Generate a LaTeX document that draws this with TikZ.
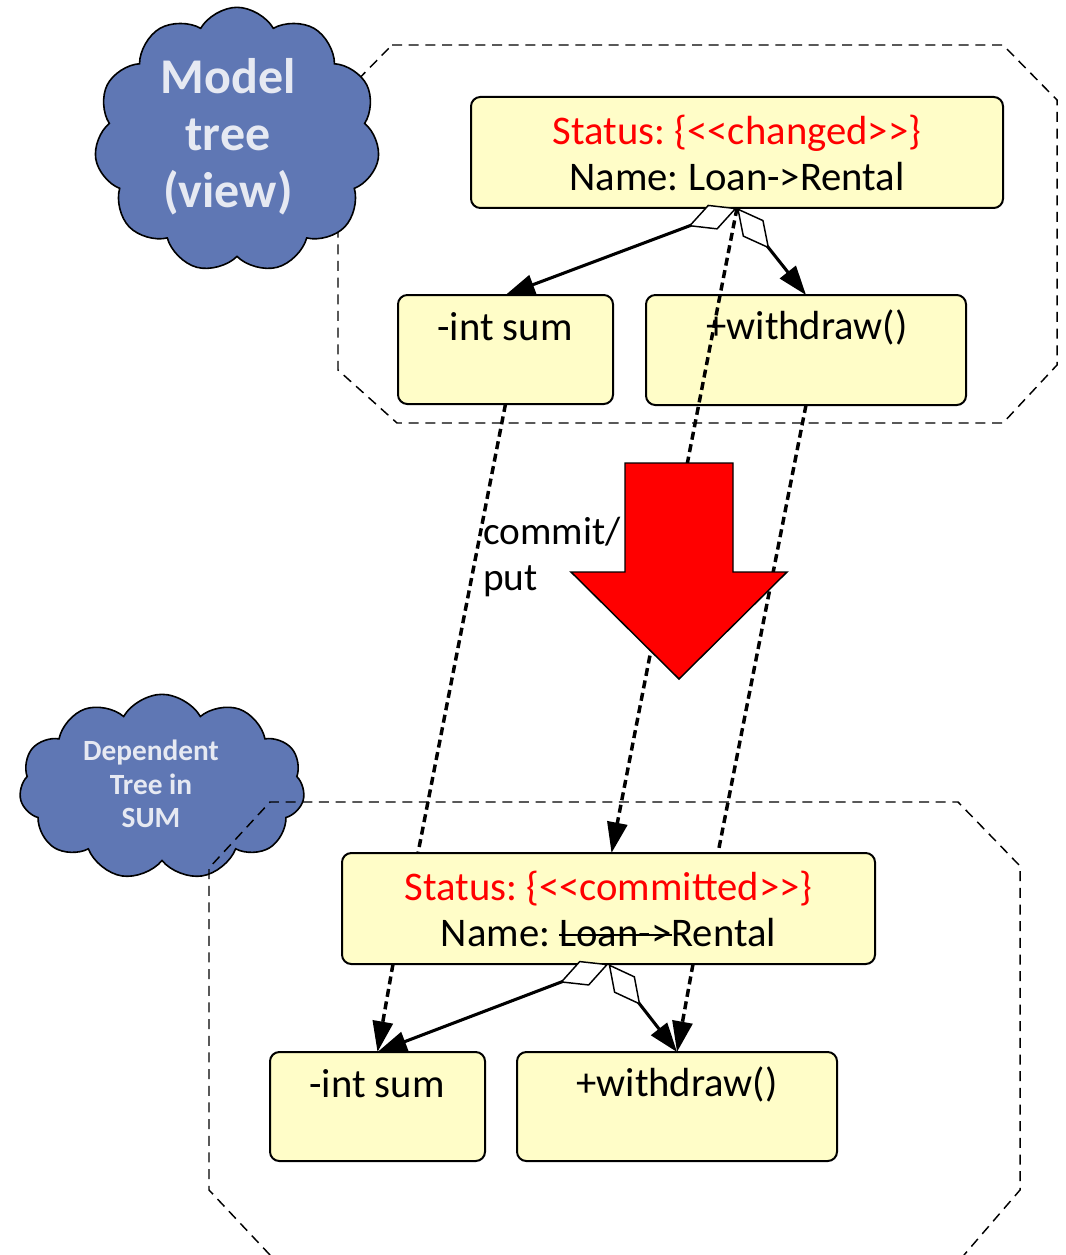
\documentclass[tikz,border=0pt]{standalone}
\usepackage{fontspec}
\setmainfont{Carlito}
\frenchspacing
\newsavebox\strkbox
\newcommand\mystrike[1]{\sbox\strkbox{#1}\rlap{\rule[0.27em]{\wd\strkbox}{1.3pt}}\usebox\strkbox}
\usetikzlibrary{arrows.meta,shapes.symbols,calc}
\definecolor{boxfill}{RGB}{255,253,200}
\definecolor{cloudfill}{RGB}{95,119,180}
\definecolor{cloudtext}{RGB}{230,233,242}
\begin{document}
\begin{tikzpicture}[x=0.75pt,y=-0.75pt,
  umlbox/.style={draw, line width=1.5pt, fill=boxfill, rounded corners=7pt, inner sep=0pt, outer sep=0pt},
  boxtext/.style={font=\fontsize{30.5}{34.5}\selectfont\frenchspacing, align=center, inner sep=0pt},
  octa/.style={draw, line width=1.1pt, dash pattern=on 7.5pt off 5pt},
  cloudy/.style={cloud, cloud puffs=11, cloud puff arc=120, cloud ignores aspect, draw, line width=1.2pt, fill=cloudfill},
  comp/.style={line width=2.3pt, {Diamond[fill=white, length=39pt, width=20pt, line width=1.1pt]}-{Triangle[length=22pt, width=15pt]}},
  dep/.style={line width=2.6pt, dash pattern=on 6pt off 3.5pt},
  deparrow/.style={dep, -{Triangle[length=23pt, width=15pt]}}
]
\useasboundingbox (0,0) rectangle (1066,1255);

% top package outline
\draw[octa] (392,45) -- (1003,45) -- (1057,100) -- (1057,365) -- (1003,423) -- (397,423) -- (338,370) -- (338,100) -- cycle;
% top cloud
\node[cloudy, minimum width=214pt, minimum height=199pt] (C1) at (237,140) {};
\node[text=cloudtext, font=\bfseries\fontsize{37.5}{42.75}\selectfont, align=center, inner sep=0pt] (C1t) at (228,137) {Model\\tree\\(view)};

% bottom cloud
\node[cloudy, minimum width=214pt, minimum height=139pt] (C2) at (162,787) {};
\node[text=cloudtext, font=\bfseries\fontsize{22}{25}\selectfont, align=center, inner sep=0pt] (C2t) at (151,784) {Dependent\\Tree in\\SUM};
% bottom package outline
\draw[octa] (270,1255) -- (209,1190) -- (209,868) -- (270,802) -- (958,802) -- (1020,866) -- (1020,1190) -- (964,1255);

% boxes
\node[umlbox, minimum width=399pt, minimum height=83.25pt] (A) at (737,152.5) {};
\node[umlbox, minimum width=161.25pt, minimum height=81.75pt] (B1) at (505.5,349.5) {};
\node[umlbox, minimum width=240pt, minimum height=82.5pt] (W1) at (806,350) {};
\node[umlbox, minimum width=399.75pt, minimum height=83.25pt] (A2) at (608.5,908.5) {};
\node[umlbox, minimum width=161.25pt, minimum height=81.75pt] (B2) at (377.5,1106.5) {};
\node[umlbox, minimum width=240pt, minimum height=81.75pt] (W2) at (677,1106.5) {};

\node[boxtext] (At) at (737,153) {\textcolor{red}{Status: \{<\kern0pt<changed>\kern0pt>\}}\\Name: Loan->Rental};
\node[boxtext] (B1t) at (505,327) {-int sum};
\node[boxtext] (W1t) at (807,327) {+withdraw()};
\node[boxtext] (A2t) at (608.5,909) {\textcolor{red}{Status: \{<\kern0pt<committed>\kern0pt>\}}\\Name: \mystrike{Loan->}Rental};
\node[boxtext] (B2t) at (377,1084) {-int sum};
\node[boxtext] (W2t) at (677,1084) {+withdraw()};

% composition connectors
\draw[comp] (A.south) -- (B1.north);
\draw[comp] (A.south) -- (W1.north);
\draw[comp] (A2.south) -- (B2.north);
\draw[comp] (A2.south) -- (W2.north);

% dependency connectors
\coordinate (A2in) at ($(A2.north)+(3,0)$);
\coordinate (A2l) at ($(A2.north west)+(76,0)$);
\coordinate (A2r) at ($(A2.north west)+(376,0)$);
\coordinate (A2bl) at ($(A2.south west)+(51,0)$);
\coordinate (A2br) at ($(A2.south west)+(351,0)$);
\draw[deparrow] (A.south) -- (A2in);
\draw[dep] (B1.south) -- (A2l);
\draw[dep] (W1.south) -- (A2r);
\draw[deparrow] (A2bl) -- (B2.north);
\draw[deparrow] (A2br) -- (W2.north);

% commit arrow
\draw[fill=red, line width=1.1pt, line join=miter] (625,463) -- (733,463) -- (733,572) -- (787,572) -- (679,679) -- (571,572) -- (625,572) -- cycle;
\node[font=\fontsize{29.5}{34}\selectfont, align=left, anchor=west, inner sep=0pt] (lbl) at (483,557) {commit/\\put};
\end{tikzpicture}
\end{document}
